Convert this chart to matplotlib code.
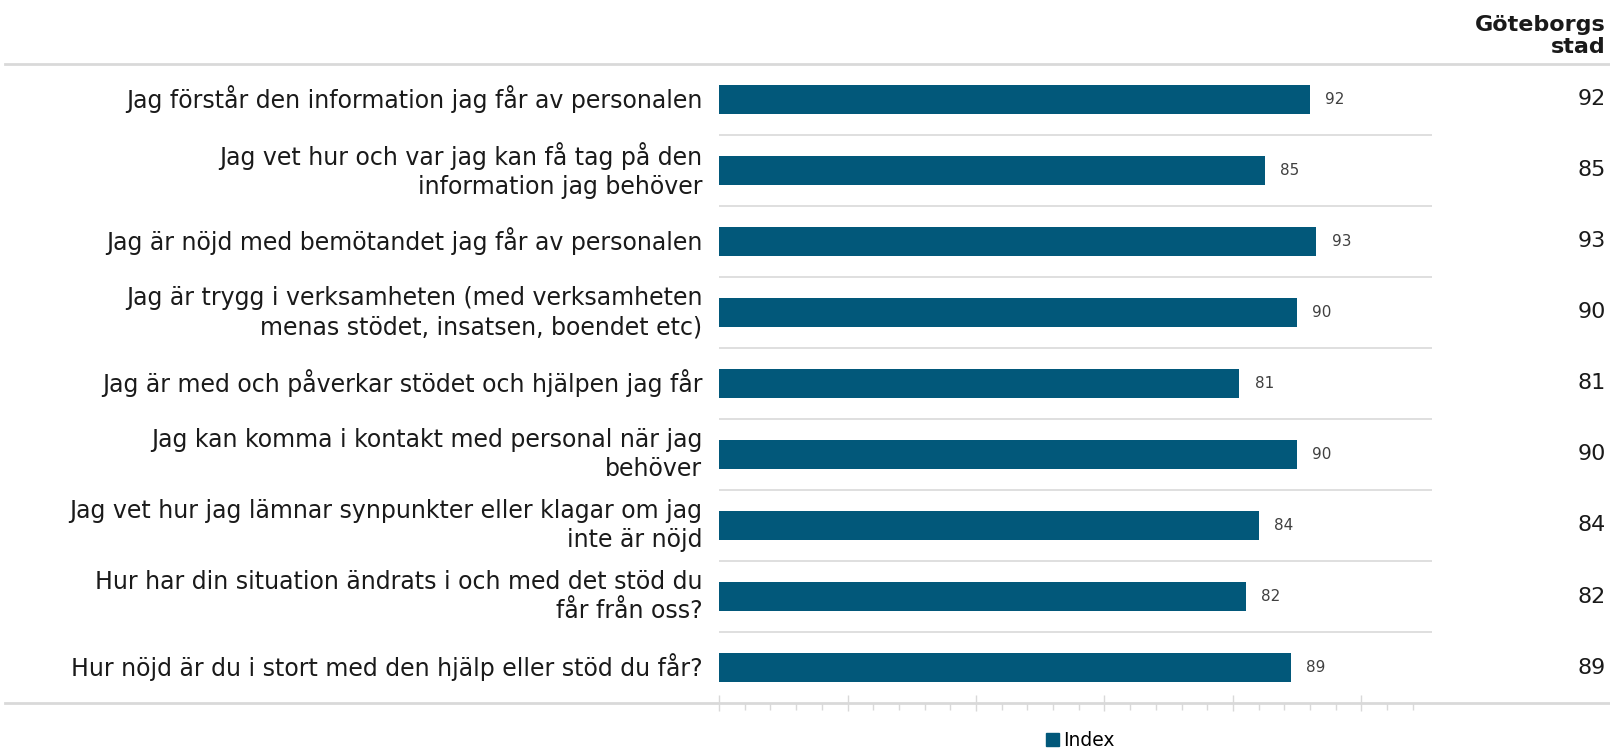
import matplotlib
matplotlib.use('Agg')
import matplotlib.pyplot as plt
from matplotlib.lines import Line2D
from matplotlib.patches import Patch
from matplotlib.ticker import MultipleLocator

# data
questions = [
    'Jag förstår den information jag får av personalen',
    'Jag vet hur och var jag kan få tag på den\ninformation jag behöver',
    'Jag är nöjd med bemötandet jag får av personalen',
    'Jag är trygg i verksamheten (med verksamheten\nmenas stödet, insatsen, boendet etc)',
    'Jag är med och påverkar stödet och hjälpen jag får',
    'Jag kan komma i kontakt med personal när jag\nbehöver',
    'Jag vet hur jag lämnar synpunkter eller klagar om jag\ninte är nöjd',
    'Hur har din situation ändrats i och med det stöd du\nfår från oss?',
    'Hur nöjd är du i stort med den hjälp eller stöd du får?',
]
index_values = [92, 85, 93, 90, 81, 90, 84, 82, 89]
goteborg_values = [92, 85, 93, 90, 81, 90, 84, 82, 89]
column_header = 'Göteborgs\nstad'
legend_label = 'Index'

bar_color = '#02587a'
grid_color = '#d9d9d9'
text_color = '#1a1a1a'

plt.rcParams['font.family'] = ['DejaVu Sans']

fig = plt.figure(figsize=(16.1, 7.49), dpi=100)
ax = fig.add_axes([0.4466, 0.0614, 0.4429, 0.8532])

y = list(range(len(questions)))
ax.barh(y, index_values, height=0.41, color=bar_color)
ax.set_ylim(len(questions) - 0.5, -0.5)
ax.set_xlim(0, 111)

# value labels next to the bars
for yi, v in zip(y, index_values):
    ax.annotate(str(v), (v, yi), xytext=(11, 0), textcoords='offset points',
                va='center', ha='left', fontsize=11, color='#404040')

# row separators
for i in range(len(questions) - 1):
    ax.axhline(i + 0.5, color=grid_color, lw=1.2, zorder=0)

# category labels and the right column
for yi, q, g in zip(y, questions, goteborg_values):
    ax.annotate(q, (0, yi), xycoords=('axes fraction', 'data'), xytext=(-12, 0),
                textcoords='offset points', ha='right', va='center',
                multialignment='right', fontsize=17, color=text_color,
                linespacing=1.3)
    ax.annotate(str(g), (0.9975, yi), xycoords=('figure fraction', 'data'),
                ha='right', va='center', fontsize=16, color=text_color,
                annotation_clip=False)

for spine in ax.spines.values():
    spine.set_visible(False)
ax.set_yticks([])
ax.xaxis.set_major_locator(MultipleLocator(20))
ax.xaxis.set_minor_locator(MultipleLocator(4))
ax.tick_params(axis='x', which='major', direction='inout', length=12,
               width=1, color=grid_color, labelbottom=False)
ax.tick_params(axis='x', which='minor', direction='out', length=5,
               width=1, color=grid_color)

# full-width top and bottom rules
fig.add_artist(Line2D([0.003, 1.0], [0.9146, 0.9146], color=grid_color, lw=2))
fig.add_artist(Line2D([0.003, 1.0], [0.0614, 0.0614], color=grid_color, lw=2))

fig.text(0.9975, 0.924, column_header, ha='right', va='bottom',
         fontsize=16, fontweight='bold', color=text_color, linespacing=1.15)

fig.legend(handles=[Patch(color=bar_color, label=legend_label)],
           loc='center', bbox_to_anchor=(0.671, 0.011), frameon=False,
           fontsize=13.5, handlelength=0.7, handleheight=0.7, handletextpad=0.2,
           borderpad=0, borderaxespad=0)

fig.savefig('out.png', dpi=100)
